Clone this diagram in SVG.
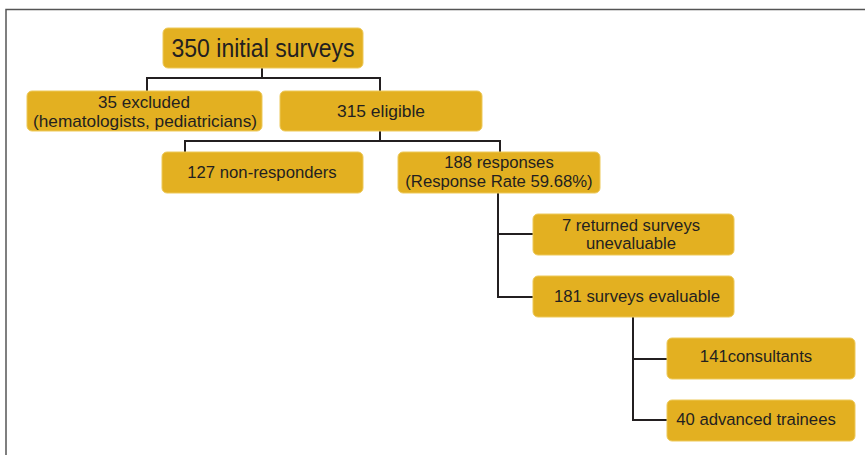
<svg xmlns="http://www.w3.org/2000/svg" width="865" height="455" viewBox="0 0 865 455">
<style>
.box{fill:#E3B021;stroke:#EDC95A;stroke-width:1}
.t{font-family:"Liberation Sans",Arial,sans-serif;font-size:16.7px;fill:#231F20;text-anchor:middle}
.n{font-family:"Liberation Sans",Arial,sans-serif;font-size:17px;fill:#231F20;text-anchor:middle}
.c{fill:none;stroke:#231F20;stroke-width:2}
</style>
<rect width="865" height="455" fill="#fff"/>
<path d="M6 455V9.5H865" fill="none" stroke="#555" stroke-width="1.5"/>
<g id="connectors">
<path class="c" d="M262 68V78M147 91V78H380V91"/>
<path class="c" d="M380 131V141M185 152V141H500V152"/>
<path class="c" d="M498 193V297H533M498 234H533"/>
<path class="c" d="M633 317V420H667M633 359H667"/>
</g>
<g id="n1"><rect class="box" x="163" y="28" width="200" height="40" rx="5"/><text class="n" x="263" y="57" style="font-size:25px" textLength="183" lengthAdjust="spacingAndGlyphs">350 initial surveys</text></g>
<g id="n2"><rect class="box" x="27" y="91" width="235" height="40" rx="5"/><text class="n" x="144" y="108" textLength="92" lengthAdjust="spacingAndGlyphs">35 excluded</text><text class="n" x="145" y="127" textLength="224" lengthAdjust="spacingAndGlyphs">(hematologists, pediatricians)</text></g>
<g id="n3"><rect class="box" x="280" y="91" width="202" height="40" rx="5"/><text class="n" x="381" y="117" textLength="88" lengthAdjust="spacingAndGlyphs">315 eligible</text></g>
<g id="n4"><rect class="box" x="162" y="152" width="201" height="41" rx="5"/><text class="t" x="262" y="178">127 non-responders</text></g>
<g id="n5"><rect class="box" x="398" y="152" width="202" height="41" rx="5"/><text class="t" x="499" y="168">188 responses</text><text class="t" x="499" y="187">(Response Rate 59.68%)</text></g>
<g id="n6"><rect class="box" x="533" y="214" width="201" height="41" rx="5"/><text class="t" x="631" y="231">7 returned surveys</text><text class="t" x="631" y="249">unevaluable</text></g>
<g id="n7"><rect class="box" x="533" y="276" width="201" height="41" rx="5"/><text class="t" x="637" y="302">181 surveys evaluable</text></g>
<g id="n8"><rect class="box" x="667" y="338" width="188" height="41" rx="5"/><text class="t" x="756" y="362">141consultants</text></g>
<g id="n9"><rect class="box" x="667" y="400" width="188" height="41" rx="5"/><text class="t" x="756" y="425">40 advanced trainees</text></g>
</svg>
